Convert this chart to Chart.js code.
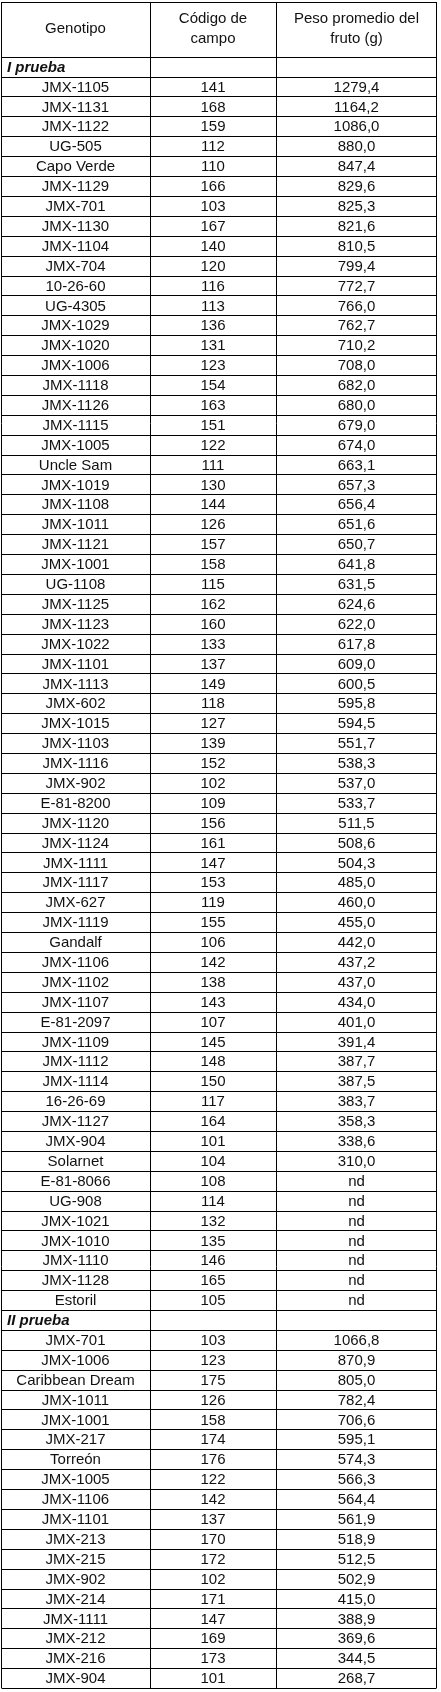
<!DOCTYPE html>
<html><head><meta charset="utf-8">
<script src="https://cdn.jsdelivr.net/npm/chart.js@4"></script>
<style>html,body{margin:0;padding:0;background:#fff}#w{width:441px;height:1692px}</style>
</head><body><div id="w"><canvas id="c"></canvas></div>
<script>
const headers = [["Genotipo"],["Código de","campo"],["Peso promedio del","fruto (g)"]];
const section1 = "I prueba";
const genotipo1 = ["JMX-1105","JMX-1131","JMX-1122","UG-505","Capo Verde","JMX-1129","JMX-701","JMX-1130","JMX-1104","JMX-704","10-26-60","UG-4305","JMX-1029","JMX-1020","JMX-1006","JMX-1118","JMX-1126","JMX-1115","JMX-1005","Uncle Sam","JMX-1019","JMX-1108","JMX-1011","JMX-1121","JMX-1001","UG-1108","JMX-1125","JMX-1123","JMX-1022","JMX-1101","JMX-1113","JMX-602","JMX-1015","JMX-1103","JMX-1116","JMX-902","E-81-8200","JMX-1120","JMX-1124","JMX-1111","JMX-1117","JMX-627","JMX-1119","Gandalf","JMX-1106","JMX-1102","JMX-1107","E-81-2097","JMX-1109","JMX-1112","JMX-1114","16-26-69","JMX-1127","JMX-904","Solarnet","E-81-8066","UG-908","JMX-1021","JMX-1010","JMX-1110","JMX-1128","Estoril"];
const codigo1 = [141,168,159,112,110,166,103,167,140,120,116,113,136,131,123,154,163,151,122,111,130,144,126,157,158,115,162,160,133,137,149,118,127,139,152,102,109,156,161,147,153,119,155,106,142,138,143,107,145,148,150,117,164,101,104,108,114,132,135,146,165,105];
const peso1 = ["1279,4","1164,2","1086,0","880,0","847,4","829,6","825,3","821,6","810,5","799,4","772,7","766,0","762,7","710,2","708,0","682,0","680,0","679,0","674,0","663,1","657,3","656,4","651,6","650,7","641,8","631,5","624,6","622,0","617,8","609,0","600,5","595,8","594,5","551,7","538,3","537,0","533,7","511,5","508,6","504,3","485,0","460,0","455,0","442,0","437,2","437,0","434,0","401,0","391,4","387,7","387,5","383,7","358,3","338,6","310,0","nd","nd","nd","nd","nd","nd","nd"];
const section2 = "II prueba";
const genotipo2 = ["JMX-701","JMX-1006","Caribbean Dream","JMX-1011","JMX-1001","JMX-217","Torreón","JMX-1005","JMX-1106","JMX-1101","JMX-213","JMX-215","JMX-902","JMX-214","JMX-1111","JMX-212","JMX-216","JMX-904"];
const codigo2 = [103,123,175,126,158,174,176,122,142,137,170,172,102,171,147,169,173,101];
const peso2 = ["1066,8","870,9","805,0","782,4","706,6","595,1","574,3","566,3","564,4","561,9","518,9","512,5","502,9","415,0","388,9","369,6","344,5","268,7"];

// build rows
const rows = [];
rows.push({section: section1});
genotipo1.forEach((g,i)=>rows.push({cells:[g,String(codigo1[i]),peso1[i]]}));
rows.push({section: section2});
genotipo2.forEach((g,i)=>rows.push({cells:[g,String(codigo2[i]),peso2[i]]}));

const HEADER_UNITS = 2.75;
const colEdges = [0, 1, 2, 3];
const colWidthsPx = [149, 126, 161]; // used to map via x scale
const total = colWidthsPx.reduce((a,b)=>a+b,0);
const xEdges = [0]; colWidthsPx.forEach(w=>xEdges.push(xEdges[xEdges.length-1]+w));

const tablePlugin = {
  id:'table',
  afterDraw(chart){
    const ctx = chart.ctx, x = chart.scales.x, y = chart.scales.y;
    const X = v=>x.getPixelForValue(v), Y = v=>y.getPixelForValue(v);
    ctx.save();
    ctx.strokeStyle='#000'; ctx.lineWidth=1;
    const L = Math.round(X(0))+0.5, R = Math.round(X(total))-0.5;
    const lineH = yy=>{const p=Math.round(Y(yy))+0.5;ctx.beginPath();ctx.moveTo(L,p);ctx.lineTo(R,p);ctx.stroke();};
    const lineV = (xx,y0,y1)=>{const p=Math.round(X(xx))+0.5;ctx.beginPath();ctx.moveTo(p,Y(y0));ctx.lineTo(p,Y(y1));ctx.stroke();};
    lineH(-HEADER_UNITS);
    lineH(0);
    rows.forEach((r,i)=>lineH(i+1));
    lineV(0,-HEADER_UNITS,rows.length); 
    const pr=Math.round(X(total))-0.5;ctx.beginPath();ctx.moveTo(pr,Y(-HEADER_UNITS));ctx.lineTo(pr,Y(rows.length));ctx.stroke();
    lineV(xEdges[1],-HEADER_UNITS,rows.length);
    lineV(xEdges[2],-HEADER_UNITS,rows.length);
    ctx.fillStyle='#111'; ctx.textAlign='center'; ctx.textBaseline='middle';
    ctx.font='15px "Liberation Sans", Arial, sans-serif';
    headers.forEach((h,c)=>{
      const cx=(X(xEdges[c])+X(xEdges[c+1]))/2;
      const mid=Y(-HEADER_UNITS/2);
      if(h.length===1) ctx.fillText(h[0],cx,mid);
      else {ctx.fillText(h[0],cx,mid-10);ctx.fillText(h[1],cx,mid+10);}
    });
    rows.forEach((r,i)=>{
      const cy=Y(i+0.5)+1;
      if(r.section){
        ctx.font='bold italic 15px "Liberation Sans", Arial, sans-serif';
        ctx.textAlign='left'; ctx.fillText(r.section,X(0)+6,cy);
        ctx.textAlign='center';
        ctx.font='15px "Liberation Sans", Arial, sans-serif';
      } else {
        r.cells.forEach((t,c)=>ctx.fillText(t,(X(xEdges[c])+X(xEdges[c+1]))/2,cy));
      }
    });
    ctx.restore();
  }
};

new Chart(document.getElementById('c'),{
  type:'scatter',
  data:{datasets:[{data:rows.map((r,i)=>({x:0,y:i+0.5})),pointRadius:0}]},
  options:{
    responsive:true,maintainAspectRatio:false,animation:false,
    layout:{padding:{top:2,bottom:4,left:1,right:4}},
    plugins:{legend:{display:false},tooltip:{enabled:false}},
    scales:{
      x:{type:'linear',min:0,max:total,display:false},
      y:{type:'linear',reverse:true,min:-HEADER_UNITS,max:rows.length,display:false}
    }
  },
  plugins:[tablePlugin]
});
</script></body></html>
